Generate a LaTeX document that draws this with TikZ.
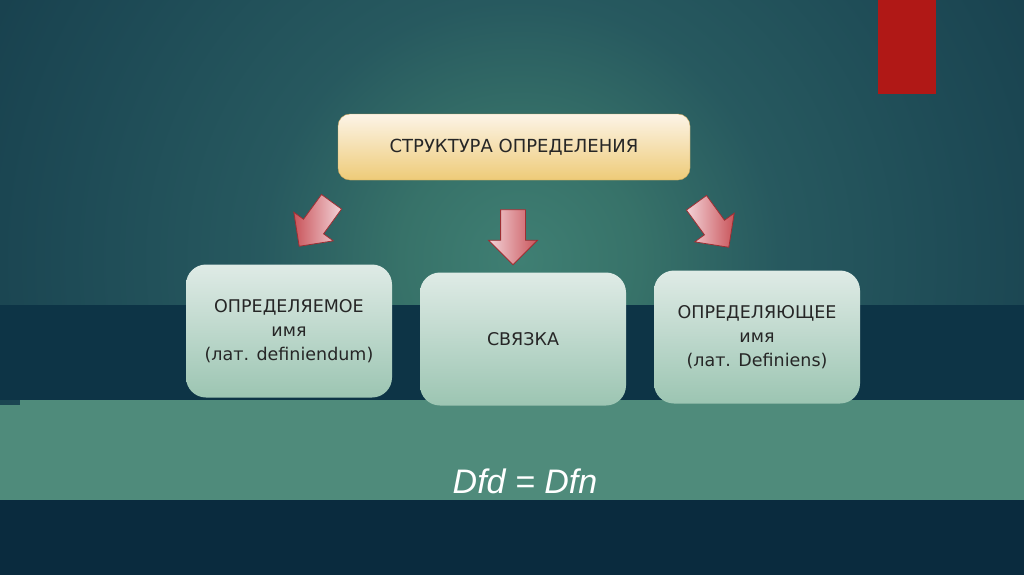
\documentclass[tikz,border=0pt]{standalone}
\usepackage{fontspec}
\setmainfont{DejaVu Sans}
\newfontfamily\formulafont{Liberation Sans}
\usetikzlibrary{shapes,arrows,positioning,calc}
\usepackage{xcolor}

\definecolor{bgcenter}{HTML}{3F7F73}
\definecolor{bginner}{HTML}{377269}
\definecolor{bgmid}{HTML}{27595F}
\definecolor{bgouter}{HTML}{1E4B56}
\definecolor{bgedge}{HTML}{163D4B}
\definecolor{bgcorner}{HTML}{143847}
\definecolor{bandDark}{HTML}{0D3446}
\definecolor{bandGreen}{HTML}{4F8B7B}
\definecolor{bandDeep}{HTML}{0A2B3E}
\definecolor{redmark}{HTML}{B01816}
\definecolor{titletop}{HTML}{FCF4E7}
\definecolor{titlebot}{HTML}{EECB78}
\definecolor{titleline}{HTML}{CFA85A}
\definecolor{cardtop}{HTML}{DFEBE6}
\definecolor{cardbot}{HTML}{9CC5B2}
\definecolor{arrowtop}{HTML}{F3D3D8}
\definecolor{arrowbot}{HTML}{C9545A}
\definecolor{arrowline}{HTML}{9E2E33}

\pgfdeclareradialshading{bgglow}{\pgfpoint{0bp}{0bp}}{color(0bp)=(bgcenter); color(3.75bp)=(bginner); color(8.1bp)=(bgmid); color(14bp)=(bgouter); color(20.3bp)=(bgedge); color(50bp)=(bgcorner)}

\begin{document}
\begin{tikzpicture}[x=1pt, y=1pt]
    \tikzstyle{title} = [rectangle, rounded corners=12pt, top color=titletop, bottom color=titlebot, draw=titleline, thin, minimum width=352pt, minimum height=66pt, font=\fontsize{18}{21}\selectfont, text=black!85]
    \tikzstyle{card} = [rectangle, rounded corners=20pt, top color=cardtop, bottom color=cardbot, minimum width=206pt, minimum height=133pt, align=center, font=\fontsize{17.5}{24}\selectfont, text=black!85]
    \tikzstyle{blockarrow} = [single arrow, draw=arrowline, thick, left color=arrowtop, right color=arrowbot, minimum height=55pt, minimum width=48pt, single arrow head extend=12pt, inner xsep=0pt, inner ysep=12pt]
    \tikzstyle{formula} = [text=white, font=\formulafont\itshape\fontsize{34}{40}\selectfont, anchor=base]

    % Фон
    \useasboundingbox (0,0) rectangle (1024,-574);
    \begin{scope}
        \clip (0,0) rectangle (1024,-574);
        \shade[shading=bgglow] (520,-260) circle (800);
        \fill[bandDark] (-2,-305) rectangle (1026,-400);
        \fill[bandGreen] (20,-400) rectangle (1026,-500);
        \fill[bandGreen] (-2,-405) rectangle (20,-500);
        \fill[bandDeep] (-2,-500) rectangle (1026,-578);
        \fill[redmark] (878,2) rectangle (936,-94);
    \end{scope}

    % Блоки
    \node[title] (struct) at (514,-147) {СТРУКТУРА ОПРЕДЕЛЕНИЯ};
    \node[card] (dfd) at (289,-331) {ОПРЕДЕЛЯЕМОЕ\\имя\\(лат. definiendum)};
    \node[card] (link) at (523,-339) {СВЯЗКА};
    \node[card] (dfn) at (757,-337) {ОПРЕДЕЛЯЮЩЕЕ\\имя\\(лат. Definiens)};

    % Стрелки
    \node[blockarrow, rotate=-126, left color=arrowbot, right color=arrowtop] (arrowL) at (319,-219) {};
    \node[blockarrow, rotate=-90] (arrowM) at (513,-231) {};
    \node[blockarrow, rotate=-54] (arrowR) at (709,-220) {};

    % Формула
    \node[formula] (eq) at (525,-493) {Dfd = Dfn};
\end{tikzpicture}
\end{document}
